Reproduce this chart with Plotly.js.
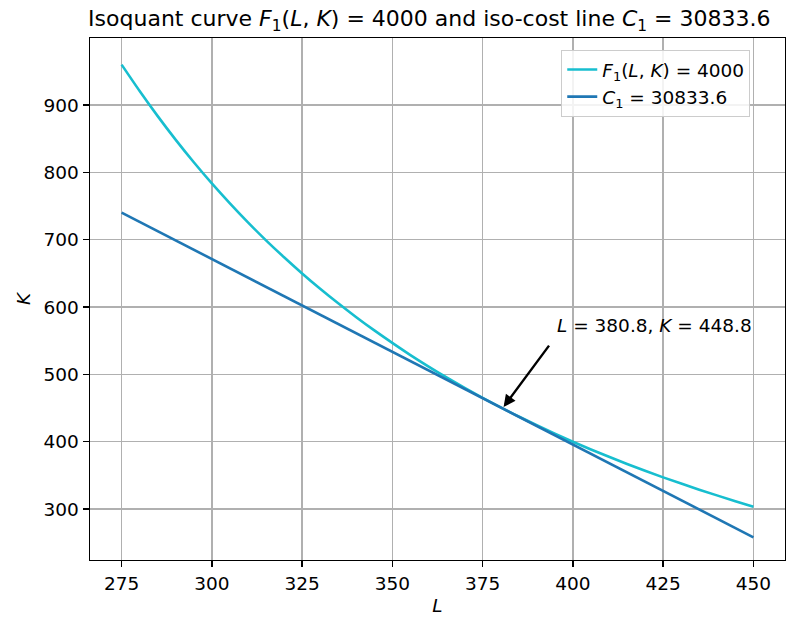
<!DOCTYPE html>
<html>
<head>
<meta charset="utf-8">
<script src="https://cdn.plot.ly/plotly-3.0.1.min.js"></script>
<style>html,body{margin:0;padding:0;background:#fff;}#chart{width:795px;height:617px;}</style>
</head>
<body>
<div id="chart"></div>
<script>
// Isoquant curve F1(L,K)=4000
const isoL = [275, 280, 285, 290, 295, 300, 305, 310, 315, 320, 325, 330, 335, 340, 345, 355, 365, 375, 385, 395, 405, 415, 425, 435, 445, 450];
const isoK = [960, 920.8, 883.5, 848.3, 815, 783.6, 754, 725.8, 699.1, 674, 650, 627.2, 605.6, 585, 565.4, 528.8, 495.6, 465.2, 437.5, 412, 388.6, 367.1, 347.2, 328.9, 311.8, 303.7];
// Iso-cost line C1 = 30833.6
const costL = [275, 450];
const costK = [740.2, 258.2];
// Tangency point annotation
const tangL = 380.8, tangK = 448.8;
const xTicks = [275, 300, 325, 350, 375, 400, 425, 450];
const yTicks = [300, 400, 500, 600, 700, 800, 900];

const font = 'DejaVu Sans, sans-serif';
const fs = 18.5;
const traces = [
  {x: isoL, y: isoK, mode: 'lines', name: '<i>F</i><sub>1</sub>(<i>L</i>, <i>K</i>) = 4000',
   line: {color: '#17becf', width: 2.6, shape: 'spline', smoothing: 0.6}},
  {x: costL, y: costK, mode: 'lines', name: '<i>C</i><sub>1</sub> = 30833.6',
   line: {color: '#1f77b4', width: 2.6}}
];
const axisCommon = {
  showgrid: true, gridcolor: '#b0b0b0', gridwidth: 1.4,
  showline: true, linecolor: '#000', linewidth: 1.4, mirror: true,
  ticks: 'outside', ticklen: 6, tickwidth: 1.4, tickcolor: '#000',
  zeroline: false, tickfont: {family: font, size: fs, color: '#000'}
};
const layout = {
  width: 795, height: 617,
  margin: {l: 90, r: 10, t: 38, b: 57},
  paper_bgcolor: '#fff', plot_bgcolor: '#fff',
  title: {text: 'Isoquant curve <i>F</i><sub>1</sub>(<i>L</i>, <i>K</i>) = 4000 and iso-cost line <i>C</i><sub>1</sub> = 30833.6',
          font: {family: font, size: 22, color: '#000'}, x: 0.54, xanchor: 'center', y: 0.97, yanchor: 'middle'},
  xaxis: Object.assign({}, axisCommon, {range: [266.25, 458.75], tickvals: xTicks,
          title: {text: '<i>L</i>', font: {family: font, size: fs, color: '#000'}, standoff: 6}}),
  yaxis: Object.assign({}, axisCommon, {range: [224.5, 999.5], tickvals: yTicks,
          title: {text: '<i>K</i>', font: {family: font, size: fs, color: '#000'}, standoff: 8}}),
  legend: {x: 0.95, xanchor: 'right', y: 0.977, yanchor: 'top',
           bgcolor: 'rgba(255,255,255,0.85)', bordercolor: '#cccccc', borderwidth: 1,
           font: {family: font, size: fs, color: '#000'}, tracegroupgap: 0},
  annotations: [
    {x: 395, y: 572, xref: 'x', yref: 'y', text: '<i>L</i> = 380.8, <i>K</i> = 448.8', showarrow: false,
     xanchor: 'left', yanchor: 'middle', font: {family: font, size: fs, color: '#000'}},
    {x: tangL, y: tangK + 3, xref: 'x', yref: 'y', ax: 393.7, ay: 545, axref: 'x', ayref: 'y',
     text: '', showarrow: true, arrowhead: 2, arrowsize: 1, arrowwidth: 2.4, arrowcolor: '#000'}
  ],
  showlegend: true
};
Plotly.newPlot('chart', traces, layout, {displayModeBar: false, staticPlot: true});
</script>
</body>
</html>
